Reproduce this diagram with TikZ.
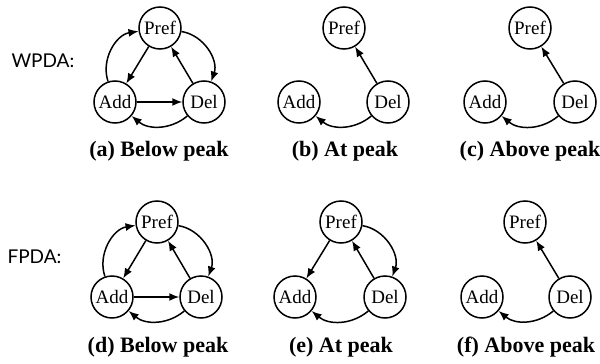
\documentclass[tikz,border=0pt]{standalone}
\usepackage{fontspec}
\setmainfont{Liberation Serif}
\newfontfamily\labelfont{Lato}
\usetikzlibrary{arrows.meta}
\begin{document}
\begin{tikzpicture}[x=1pt,y=-1pt,
  st/.style={circle,draw,line width=1.5pt,minimum size=42pt,inner sep=0pt,font=\fontsize{19}{19}\selectfont},
  ar/.style={line width=1.5pt,-{Latex[length=10pt,width=8pt]}},
  side/.style={bend left=50},
  bot/.style={bend left=40},
  capt/.style={font=\fontsize{22}{22}\selectfont\bfseries},
  lab/.style={anchor=west,font=\labelfont\fontsize{19}{19}\selectfont}]
\useasboundingbox (0,0) rectangle (600,364);
% labels
\node[lab] (wpda) at (8,61) {WPDA:};
\node[lab] (fpda) at (4,257) {FPDA:};
% (a)
\node[st] (ap) at (160,28) {Pref};
\node[st] (aa) at (115,102) {Add};
\node[st] (ad) at (204,102) {Del};
\draw[ar] (ap) to[side] (ad);
\draw[ar] (ad) -- (ap);
\draw[ar] (ap) -- (aa);
\draw[ar] (aa) to[side] (ap);
\draw[ar] (aa) -- (ad);
\draw[ar] (ad) to[bot] (aa);
\node[capt] (acap) at (159,151) {(a) Below peak};
% (b)
\node[st] (bp) at (344,28) {Pref};
\node[st] (ba) at (299,102) {Add};
\node[st] (bd) at (388,102) {Del};
\draw[ar] (bd) -- (bp);
\draw[ar] (bd) to[bot] (ba);
\node[capt] (bcap) at (345,151) {(b) At peak};
% (c)
\node[st] (cp) at (530,28) {Pref};
\node[st] (ca) at (485,102) {Add};
\node[st] (cd) at (575,102) {Del};
\draw[ar] (cd) -- (cp);
\draw[ar] (cd) to[bot] (ca);
\node[capt] (ccap) at (530,151) {(c) Above peak};
% (d)
\node[st] (dp) at (157,222) {Pref};
\node[st] (da) at (112,297) {Add};
\node[st] (dd) at (201,297) {Del};
\draw[ar] (dp) to[side] (dd);
\draw[ar] (dd) -- (dp);
\draw[ar] (dp) -- (da);
\draw[ar] (da) to[side] (dp);
\draw[ar] (da) -- (dd);
\draw[ar] (dd) to[bot] (da);
\node[capt] (dcap) at (158,347) {(d) Below peak};
% (e)
\node[st] (ep) at (341,222) {Pref};
\node[st] (ea) at (295,297) {Add};
\node[st] (ed) at (385,297) {Del};
\draw[ar] (ep) to[side] (ed);
\draw[ar] (ed) -- (ep);
\draw[ar] (ep) -- (ea);
\draw[ar] (ed) to[bot] (ea);
\node[capt] (ecap) at (341,347) {(e) At peak};
% (f)
\node[st] (fp) at (525,222) {Pref};
\node[st] (fa) at (482,297) {Add};
\node[st] (fd) at (570,297) {Del};
\draw[ar] (fd) -- (fp);
\draw[ar] (fd) to[bot] (fa);
\node[capt] (fcap) at (526,347) {(f) Above peak};
\end{tikzpicture}
\end{document}
